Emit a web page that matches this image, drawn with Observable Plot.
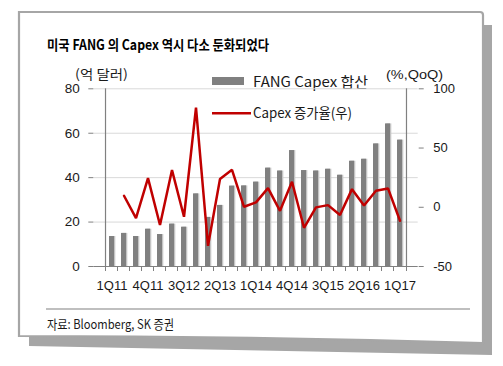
<!DOCTYPE html>
<html>
<head>
<meta charset="utf-8">
<script src="https://cdn.jsdelivr.net/npm/d3@7"></script>
<script src="https://cdn.jsdelivr.net/npm/@observablehq/plot@0.6"></script>
<style>
  html, body { margin: 0; padding: 0; background: #fff; }
  #wrap { position: relative; width: 503px; height: 366px; overflow: hidden; }
  #wrap > svg { position: absolute; left: 0; top: 0; }
</style>
</head>
<body>
<div id="wrap">
<svg id="bg" width="503" height="366" xmlns="http://www.w3.org/2000/svg">
  <polygon points="480,25 492,25 492,355 29,346 29,336 480,340" fill="#a6a6a6"/>
  <path d="M19,12 L480,12 Q483,12 483,15 L483,343 Q250,336 19,336 Z" fill="#fff" stroke="#a6a6a6" stroke-width="2.2"/>
  <text x="47" y="50" font-family="Noto Sans CJK KR" font-weight="700" font-size="14" fill="#000" textLength="222" lengthAdjust="spacingAndGlyphs">미국 FANG 의 Capex 역시 다소 둔화되었다</text>
  <text x="75" y="79" font-family="Noto Sans CJK KR" font-size="13" fill="#1a1a1a" textLength="53" lengthAdjust="spacingAndGlyphs">(억 달러)</text>
  <text x="386" y="79" font-family="Liberation Sans" font-size="13" fill="#1a1a1a" textLength="57" lengthAdjust="spacingAndGlyphs">(%,QoQ)</text>
  <rect x="212" y="77" width="32" height="8" fill="#808080"/>
  <text x="253" y="87" font-family="Noto Sans CJK KR" font-size="14" fill="#1a1a1a" textLength="115" lengthAdjust="spacingAndGlyphs">FANG Capex 합산</text>
  <line x1="212" x2="251" y1="113.3" y2="113.3" stroke="#c00000" stroke-width="2.5"/>
  <text x="253" y="118" font-family="Noto Sans CJK KR" font-size="14" fill="#1a1a1a" textLength="99" lengthAdjust="spacingAndGlyphs">Capex 증가율(우)</text>
  <line x1="46" x2="470" y1="309" y2="309" stroke="#bfbfbf" stroke-width="2"/>
  <text x="47" y="329" font-family="Noto Sans CJK KR" font-size="13" fill="#1a1a1a" textLength="127" lengthAdjust="spacingAndGlyphs">자료: Bloomberg, SK 증권</text>
</svg>
</div>
<script>
const quarters = ["1Q11","2Q11","3Q11","4Q11","1Q12","2Q12","3Q12","4Q12","1Q13","2Q13","3Q13","4Q13","1Q14","2Q14","3Q14","4Q14","1Q15","2Q15","3Q15","4Q15","1Q16","2Q16","3Q16","4Q16","1Q17"];
const capex = [13.5,14.9,13.5,16.8,14.4,19.1,17.7,32.7,22.1,27.5,36.2,36.3,38.0,44.3,43.0,52.2,43.2,43.0,43.8,41.1,47.4,48.3,55.2,64.2,56.9];
const growth = [null,9.7,-9.1,24.6,-15.0,31.4,-8.0,84.2,-32.5,23.8,31.6,0.4,4.1,16.2,-3.0,21.5,-17.3,-0.1,1.8,-6.6,15.3,1.5,13.9,15.9,-11.4];
const xTickLabels = ["1Q11","4Q11","3Q12","2Q13","1Q14","4Q14","3Q15","2Q16","1Q17"];
const leftTicks = [0,20,40,60,80];
const rightTicks = [-50,0,50,100];

const data = quarters.map((q, i) => ({q, capex: capex[i], g: growth[i]}));

const W = 503, H = 366, ML = 93.3, MR = 503 - 417.7, MT = 88.3, MB = 366 - 266;
const step = (W - ML - MR) / quarters.length;
const rMin = -50, rMax = 100, lMax = 80;
const toL = v => (v - rMin) * lMax / (rMax - rMin);
const fromL = v => v * (rMax - rMin) / lMax + rMin;
const axisColor = "#808080";
const textColor = "#1a1a1a";

const chart = Plot.plot({
  width: W, height: H,
  marginLeft: ML, marginRight: MR, marginTop: MT, marginBottom: MB,
  style: {background: "transparent", fontFamily: "Liberation Sans", fontSize: "13px", color: textColor, overflow: "visible"},
  x: {domain: quarters, paddingInner: 0.58, paddingOuter: 0.29, axis: null, label: null},
  y: {domain: [0, lMax], axis: null, label: null},
  marks: [
    Plot.ruleY([20, 40, 60, 80], {stroke: "#d9d9d9", strokeWidth: 1}),
    Plot.barY(data, {x: "q", y: "capex", fill: "#c4c4c4", dx: 1.3}),
    Plot.barY(data, {x: "q", y: "capex", fill: "#808080"}),
    Plot.ruleY([0], {stroke: axisColor, strokeWidth: 1.2}),
    Plot.ruleX([quarters[0]], {y1: 0, y2: lMax, dx: -step / 2, stroke: axisColor, strokeWidth: 1.2}),
    Plot.ruleX([quarters[quarters.length - 1]], {y1: 0, y2: lMax, dx: step / 2, stroke: axisColor, strokeWidth: 1.2}),
    Plot.axisX({ticks: quarters, tickSize: 5, tickFormat: () => "", dx: -step / 2, stroke: axisColor, label: null}),
    Plot.axisX({ticks: [quarters[quarters.length - 1]], tickSize: 5, tickFormat: () => "", dx: step / 2, stroke: axisColor, label: null}),
    Plot.axisX({ticks: xTickLabels, tickSize: 0, tickPadding: 14, fill: textColor, fontSize: 13, label: null}),
    Plot.axisY({anchor: "left", ticks: leftTicks, tickSize: 5, tickPadding: 9, stroke: axisColor, fill: textColor, fontSize: 13.5, label: null}),
    Plot.axisY({anchor: "right", ticks: rightTicks.map(toL), tickFormat: d => String(Math.round(fromL(d))), tickSize: 5, tickPadding: 10, stroke: axisColor, fill: textColor, fontSize: 13, label: null}),
    Plot.line(data.filter(d => d.g != null), {x: "q", y: d => toL(d.g), stroke: "#c00000", strokeWidth: 2.5, strokeLinejoin: "miter"})
  ]
});
document.getElementById("wrap").appendChild(chart);
</script>
</body>
</html>
